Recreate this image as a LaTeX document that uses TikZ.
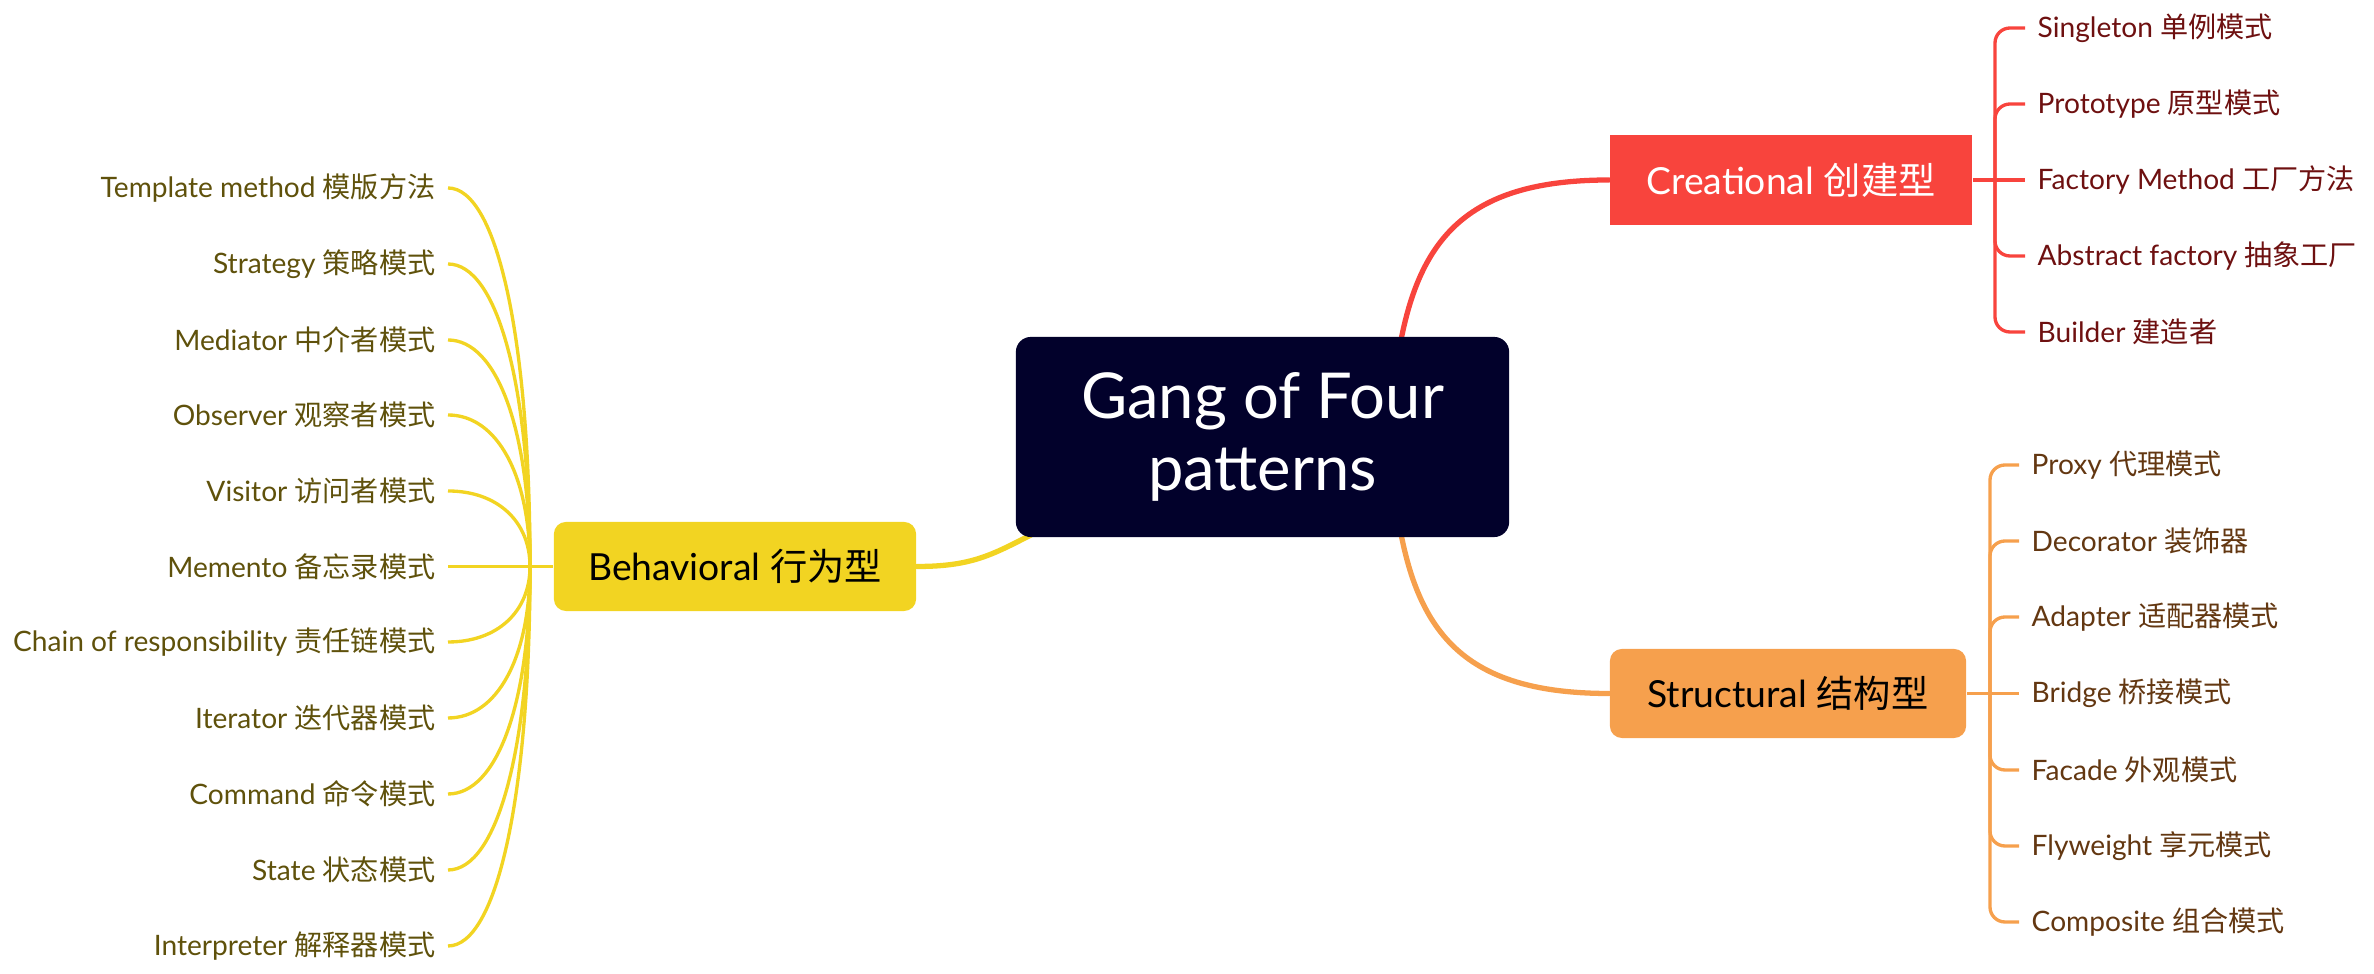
\documentclass[tikz,border=0pt]{standalone}
\usepackage{fontspec}
\setmainfont{Lato}
\newfontfamily\cjk{Noto Sans CJK SC}
\usetikzlibrary{calc,backgrounds}
\definecolor{rootbg}{HTML}{02012B}
\definecolor{crered}{HTML}{F8443D}
\definecolor{strorg}{HTML}{F6A04D}
\definecolor{behyel}{HTML}{F2D422}
\definecolor{credark}{HTML}{6E1010}
\definecolor{strdark}{HTML}{633711}
\definecolor{behdark}{HTML}{5F510B}
\newcommand{\zh}[1]{{\cjk #1}}

\begin{document}
\begin{tikzpicture}[
  x=0.01cm, y=-0.01cm,
  gofbox/.style={fill=rootbg,text=white,rounded corners=0.15cm,minimum width=4.93cm,minimum height=2cm,align=center,font=\fontsize{18}{20.5}\selectfont},
  catbox/.style={minimum width=3.62cm,minimum height=0.89cm,inner sep=0pt,font=\fontsize{10.6}{12}\selectfont},
  leaf/.style={font=\fontsize{8}{10}\selectfont,inner xsep=0.12cm,inner ysep=0pt},
  leafc/.style={leaf,anchor=west,text=credark},
  leafs/.style={leaf,anchor=west,text=strdark},
  leafb/.style={leaf,anchor=east,text=behdark},
  mainline/.style={line width=1.5pt,line cap=round},
  subline/.style={line width=0.95pt,rounded corners=0.15cm},
  bcurve/.style={to path={.. controls ($(\tikztostart)!0.6!(\tikztostart |- \tikztotarget)$) and ($(\tikztotarget)!0.6!(\tikztostart |- \tikztotarget)$) .. (\tikztotarget)}}
]
\useasboundingbox (0,0) rectangle (2374,974);

% centre and the three groups
\node[gofbox] (gof) at (1262.5,437) {Gang of Four\\patterns};
\node[catbox,fill=crered,text=white] (crea) at (1791,180) {Creational \zh{创建型}};
\node[catbox,fill=strorg,rounded corners=0.12cm,minimum width=3.56cm] (stru) at (1788,693.5) {Structural \zh{结构型}};
\node[catbox,fill=behyel,rounded corners=0.12cm] (beha) at (735,566.5) {Behavioral \zh{行为型}};

\coordinate (cj) at (1995,180);
\coordinate (sj) at (1990,693.5);
\coordinate (bj) at (530,566.5);

% creational
\node[leafc] (sing) at (2025,28) {Singleton \zh{单例模式}};
\node[leafc] (prot) at (2025,104) {Prototype \zh{原型模式}};
\node[leafc] (fact) at (2025,180) {Factory Method \zh{工厂方法}};
\node[leafc] (abst) at (2025,256) {Abstract factory \zh{抽象工厂}};
\node[leafc] (buil) at (2025,332) {Builder \zh{建造者}};

% structural
\node[leafs] (prox) at (2019,465) {Proxy \zh{代理模式}};
\node[leafs] (deco) at (2019,541) {Decorator \zh{装饰器}};
\node[leafs] (adap) at (2019,617) {Adapter \zh{适配器模式}};
\node[leafs] (brid) at (2019,693.5) {Bridge \zh{桥接模式}};
\node[leafs] (faca) at (2019,770) {Facade \zh{外观模式}};
\node[leafs] (flyw) at (2019,846) {Flyweight \zh{享元模式}};
\node[leafs] (comp) at (2019,922) {Composite \zh{组合模式}};

% behavioral
\node[leafb] (tmpl) at (448,188) {Template method \zh{模版方法}};
\node[leafb] (strg) at (448,264) {Strategy \zh{策略模式}};
\node[leafb] (medi) at (448,340) {Mediator \zh{中介者模式}};
\node[leafb] (obsv) at (448,415) {Observer \zh{观察者模式}};
\node[leafb] (visi) at (448,491) {Visitor \zh{访问者模式}};
\node[leafb] (meme) at (448,566.5) {Memento \zh{备忘录模式}};
\node[leafb] (chai) at (448,642) {Chain of responsibility \zh{责任链模式}};
\node[leafb] (iter) at (448,718) {Iterator \zh{迭代器模式}};
\node[leafb] (comm) at (448,794) {Command \zh{命令模式}};
\node[leafb] (stat) at (448,870) {State \zh{状态模式}};
\node[leafb] (intp) at (448,946) {Interpreter \zh{解释器模式}};

\begin{scope}[on background layer]
\draw[mainline,crered] ([shift={(-110,10)}]gof.north east) .. controls +(20,-110) and +(-140,0) .. (crea.west);
\draw[mainline,strorg] ([shift={(-110,-10)}]gof.south east) .. controls +(20,110) and +(-140,0) .. (stru.west);
\draw[mainline,behyel] ([shift={(30,-10)}]gof.south west) .. controls +(-50,25) and +(60,0) .. (beha.east);

\draw[subline,crered] (crea.east) -- (fact.west);
\draw[subline,crered] (cj) |- (sing.west);
\draw[subline,crered] (cj) |- (prot.west);
\draw[subline,crered] (cj) |- (abst.west);
\draw[subline,crered] (cj) |- (buil.west);

\draw[subline,strorg] (stru.east) -- (brid.west);
\draw[subline,strorg] (sj) |- (prox.west);
\draw[subline,strorg] (sj) |- (deco.west);
\draw[subline,strorg] (sj) |- (adap.west);
\draw[subline,strorg] (sj) |- (faca.west);
\draw[subline,strorg] (sj) |- (flyw.west);
\draw[subline,strorg] (sj) |- (comp.west);

\draw[subline,behyel] (beha.west) -- (meme.east);
\draw[subline,behyel] (bj) to[bcurve] (tmpl.east);
\draw[subline,behyel] (bj) to[bcurve] (strg.east);
\draw[subline,behyel] (bj) to[bcurve] (medi.east);
\draw[subline,behyel] (bj) to[bcurve] (obsv.east);
\draw[subline,behyel] (bj) to[bcurve] (visi.east);
\draw[subline,behyel] (bj) to[bcurve] (chai.east);
\draw[subline,behyel] (bj) to[bcurve] (iter.east);
\draw[subline,behyel] (bj) to[bcurve] (comm.east);
\draw[subline,behyel] (bj) to[bcurve] (stat.east);
\draw[subline,behyel] (bj) to[bcurve] (intp.east);
\end{scope}
\end{tikzpicture}
\end{document}
